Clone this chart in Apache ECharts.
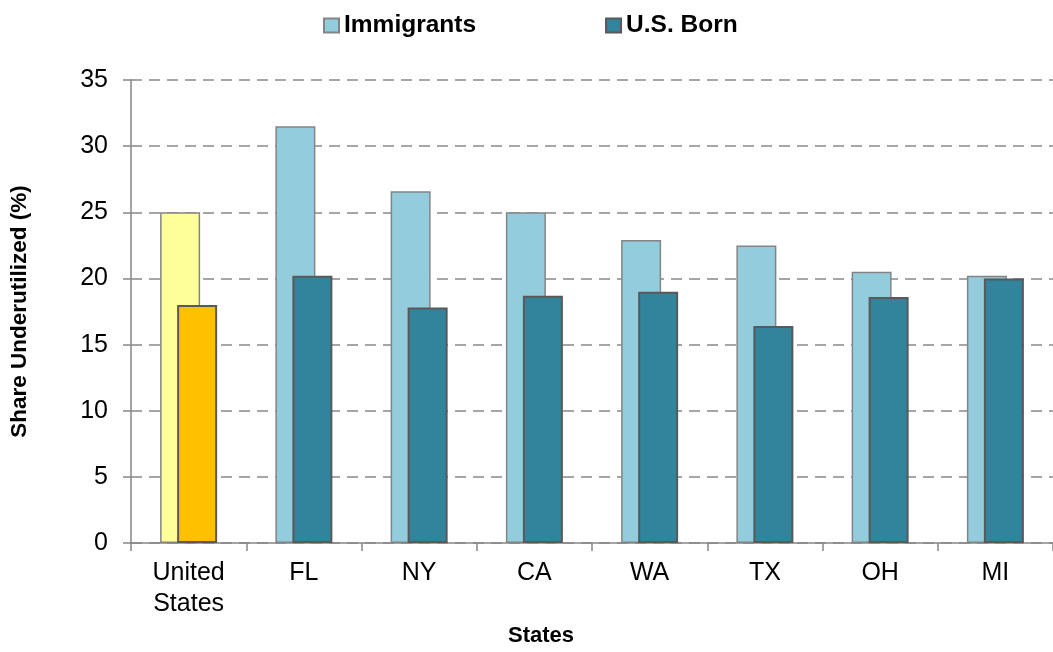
<!DOCTYPE html>
<html>
<head>
<meta charset="utf-8">
<script src="https://cdn.jsdelivr.net/npm/echarts@6/dist/echarts.min.js"></script>
<style>
  html, body { margin: 0; padding: 0; background: #fff; }
  #chart { width: 1053px; height: 652px; }
</style>
</head>
<body>
<div id="chart"></div>
<script>
const states = ['United\nStates', 'FL', 'NY', 'CA', 'WA', 'TX', 'OH', 'MI']
const immigrants = [25.0, 31.5, 26.6, 25.0, 22.9, 22.5, 20.5, 20.2]
const usBorn = [18.0, 20.2, 17.8, 18.7, 19.0, 16.4, 18.6, 20.0]
const yTicks = { min: 0, max: 35, interval: 5 }

const font = "'Liberation Sans', Arial, sans-serif"

// the national bars get their own yellow / orange colours
const highlight = { 'United\nStates': ['#FFFF99', '#FFC000'] }

function barData (values, which) {
  return values.map((v, i) => {
    const c = highlight[states[i]]
    return c ? { value: v, itemStyle: { color: c[which] } } : v
  })
}

const chart = echarts.init(document.getElementById('chart'))
const option = {
  animation: false,
  textStyle: { fontFamily: font },
  legend: {
    left: 318,
    top: 8,
    itemWidth: 15,
    itemHeight: 14,
    itemGap: 129,
    icon: 'rect',
    textStyle: {
      fontFamily: font,
      fontSize: 24.5,
      fontWeight: 'bold',
      color: '#000'
    },
    data: ['Immigrants', 'U.S. Born']
  },
  grid: {
    left: 122,
    top: 80,
    width: 938,
    height: 475
  },
  xAxis: {
    type: 'category',
    data: states,
    name: 'States',
    nameLocation: 'middle',
    nameGap: 78,
    nameTextStyle: {
      fontFamily: font,
      fontSize: 22,
      fontWeight: 'bold',
      color: '#000',
      padding: [0, 102, 0, 0]
    },
    axisLine: { lineStyle: { color: '#868686', width: 1.5 } },
    axisTick: { show: true, length: 8, interval: 0, lineStyle: { color: '#868686', width: 1.5 } },
    axisLabel: {
      fontFamily: font,
      fontSize: 25,
      color: '#000',
      lineHeight: 31,
      margin: 15,
      interval: 0
    }
  },
  yAxis: {
    type: 'value',
    min: yTicks.min,
    max: yTicks.max,
    interval: yTicks.interval,
    name: 'Share Underutilized (%)',
    nameLocation: 'middle',
    nameRotate: 90,
    nameGap: 100,
    nameTextStyle: {
      fontFamily: font,
      fontSize: 22.5,
      fontWeight: 'bold',
      color: '#000'
    },
    axisLine: { show: true, lineStyle: { color: '#868686', width: 1.5 } },
    axisTick: { show: true, length: 8, lineStyle: { color: '#868686', width: 1.5 } },
    axisLabel: {
      fontFamily: font,
      fontSize: 25,
      color: '#000',
      margin: 23
    },
    splitLine: {
      show: true,
      lineStyle: { color: '#A6A6A6', width: 2, type: [11, 7] }
    }
  },
  series: [
    {
      name: 'Immigrants',
      type: 'bar',
      barWidth: 40,
      barGap: '-57.5%',
      itemStyle: { color: '#93CDDD', borderColor: '#848484', borderWidth: 1.5 },
      data: barData(immigrants, 0)
    },
    {
      name: 'U.S. Born',
      type: 'bar',
      barWidth: 40,
      barGap: '-57.5%',
      itemStyle: { color: '#31849B', borderColor: '#595959', borderWidth: 2 },
      data: barData(usBorn, 1)
    }
  ]
}
chart.setOption(option)
</script>
</body>
</html>
